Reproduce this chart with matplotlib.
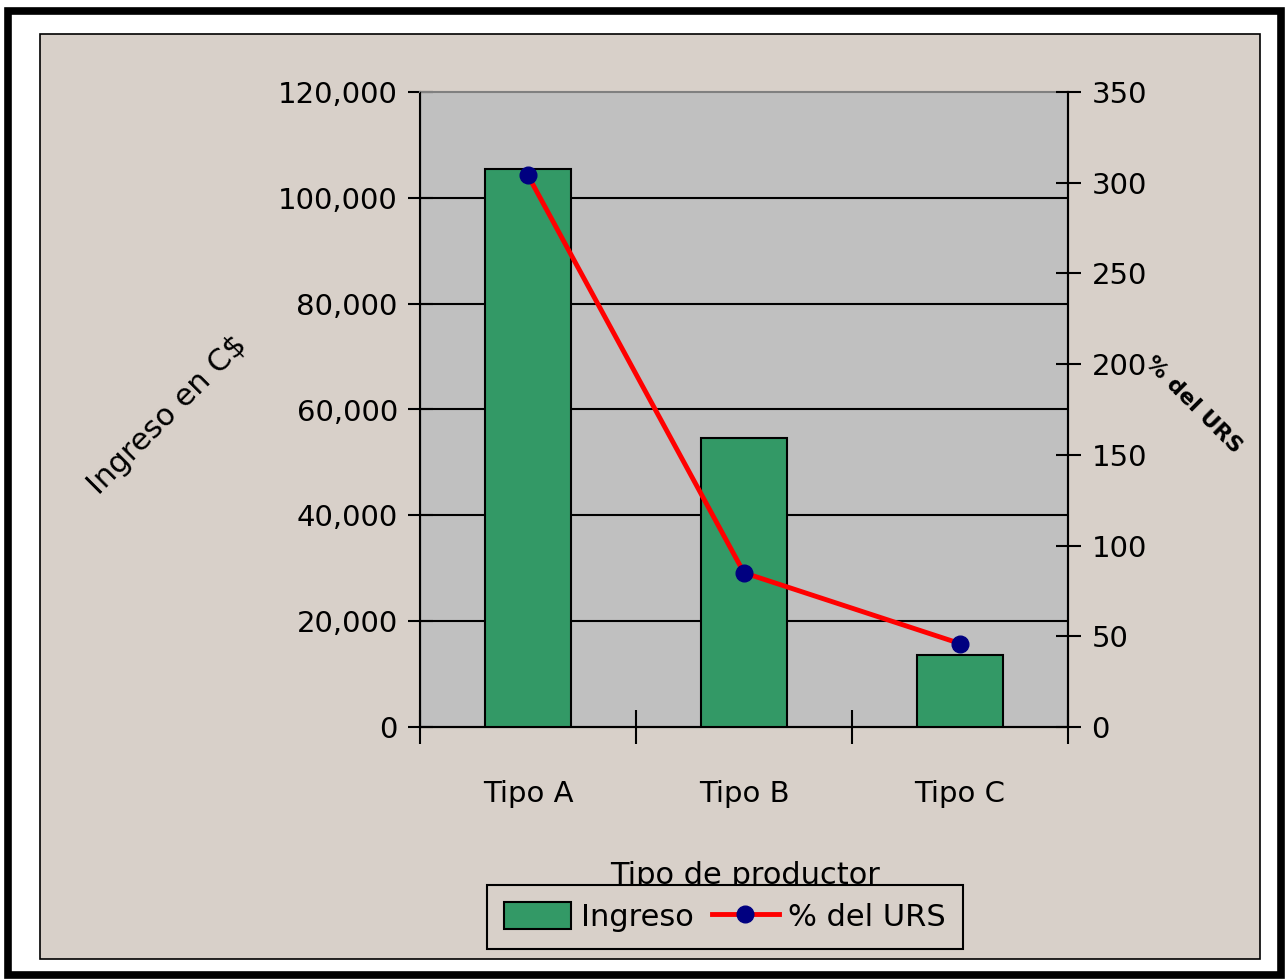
import matplotlib
matplotlib.use("Agg")
import matplotlib.pyplot as plt
from matplotlib.patches import Rectangle, Patch
from matplotlib.lines import Line2D
from matplotlib.ticker import FuncFormatter

plt.rcParams['font.family'] = ['DejaVu Sans']

tipos = ["Tipo A", "Tipo B", "Tipo C"]
ingreso = [105500, 54600, 13600]
pct_urs = [304, 85, 46]

beige = "#D8D0C9"
gris = "#C0C0C0"
verde = "#339966"

fig = plt.figure(figsize=(12.88, 9.8), dpi=100, facecolor="white")

# marcos exteriores (detras de los ejes)
fig.patches.append(Rectangle((8 / 1288, 1 - 975 / 980), 1273 / 1288, 964 / 980,
                             transform=fig.transFigure, fill=False,
                             edgecolor="black", linewidth=5.5, zorder=-2))
fig.patches.append(Rectangle((40 / 1288, 1 - 959 / 980), 1220 / 1288, 925 / 980,
                             transform=fig.transFigure, facecolor=beige,
                             edgecolor="black", linewidth=1.2, zorder=-2))

ax = fig.add_axes([420 / 1288, 1 - 727 / 980, 648 / 1288, 635 / 980])
ax.set_facecolor(gris)
x = range(len(tipos))
ax.bar(x, ingreso, width=0.4, color=verde, edgecolor="black", linewidth=1.5, zorder=3)
ax.set_xlim(-0.5, len(tipos) - 0.5)
ax.set_ylim(0, 120000)
ax.set_yticks(range(0, 120001, 20000))
ax.yaxis.set_major_formatter(FuncFormatter(lambda v, p: f"{int(v):,}"))
ax.set_axisbelow(True)
ax.yaxis.grid(True, color="black", linewidth=1.5)
ax.get_ygridlines()[-1].set_visible(False)

ax.set_xticks([-0.5, 0.5, 1.5, 2.5])
ax.set_xticklabels([])
ax.set_xticks(list(x), minor=True)
ax.set_xticklabels(tipos, minor=True, fontsize=21)
ax.tick_params(axis="x", which="major", direction="inout", length=24, width=1.5)
ax.tick_params(axis="x", which="minor", length=0, pad=38)
ax.tick_params(axis="y", direction="inout", length=18, width=1.5, labelsize=21, pad=7)

for s in ["left", "bottom"]:
    ax.spines[s].set_linewidth(1.5)
ax.spines["top"].set_color("#808080")
ax.spines["top"].set_linewidth(1.5)
ax.spines["right"].set_linewidth(1.5)

ax2 = ax.twinx()
ax2.plot(list(x), pct_urs, color="red", linewidth=3.5, marker="o",
         markersize=12, markerfacecolor="#000080", markeredgecolor="#000080", zorder=5)
ax2.set_ylim(0, 350)
ax2.set_yticks(range(0, 351, 50))
ax2.tick_params(axis="y", direction="inout", length=18, width=1.5, labelsize=21, pad=8)
ax2.spines["right"].set_linewidth(1.5)
ax2.spines["top"].set_visible(False)

fig.text(167 / 1288, 1 - 415 / 980, "Ingreso en C$", rotation=45,
         ha="center", va="center", fontsize=22)
fig.text(1193 / 1288, 1 - 405 / 980, "% del URS", rotation=-45,
         ha="center", va="center", fontsize=16, fontweight="bold")
fig.text(745 / 1288, 1 - 875 / 980, "Tipo de productor",
         ha="center", va="center", fontsize=22)

handles = [Patch(facecolor=verde, edgecolor="black", linewidth=1.5),
           Line2D([], [], color="red", linewidth=3.5, marker="o", markersize=12,
                  markerfacecolor="#000080", markeredgecolor="#000080")]
leg = fig.legend(handles, ["Ingreso", "% del URS"], loc="center",
                 bbox_to_anchor=(725 / 1288, 1 - 917 / 980), ncol=2, fontsize=22,
                 frameon=True, fancybox=False, facecolor=beige, edgecolor="black",
                 framealpha=1, handlelength=2.2, handleheight=1.0, handletextpad=0.3,
                 columnspacing=0.6, borderpad=0.55, borderaxespad=0)
leg.get_frame().set_linewidth(1.5)

fig.savefig("out.png", dpi=100, facecolor="white")
